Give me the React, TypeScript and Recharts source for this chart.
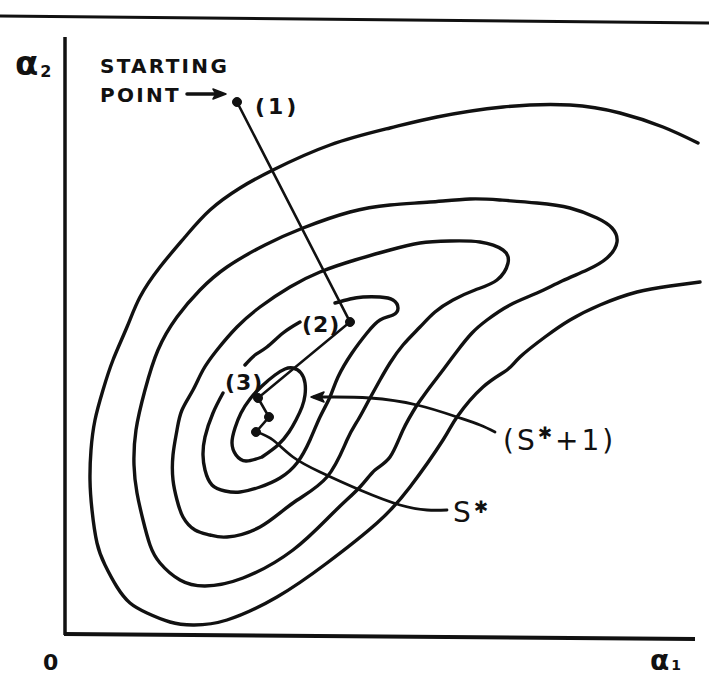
import React from 'react';
import { ComposedChart, Line, XAxis, YAxis, ReferenceLine, ReferenceDot } from 'recharts';

type Pt = [number, number];

// Objective contours in the (a1, a2) plane, origin at the axes corner.
// Outermost level is open on the right side.
const outerContour: Pt[] = [
  [633, 491], [598, 507], [555, 521], [505, 529], [438, 527], [372, 517], [325, 506],
  [265, 489], [208, 464], [175, 446], [145, 424], [120, 397], [95, 367], [75, 337],
  [62, 307], [48, 274], [38, 244], [30, 214], [26, 184], [25, 154], [27, 124], [32, 91],
  [40, 69], [52, 47], [65, 31], [82, 21], [105, 12], [128, 9], [162, 14], [212, 37],
  [262, 71], [312, 111], [345, 147], [378, 194], [392, 217], [418, 247], [442, 264],
  [455, 277], [480, 297], [505, 314], [535, 329], [572, 342], [605, 348], [635, 352],
];

const contour4: Pt[] = [
  [352, 229], [365, 247], [378, 264], [393, 284], [407, 301], [422, 314], [445, 329],
  [472, 341], [497, 353], [522, 364], [542, 376], [552, 392], [547, 406], [532, 416],
  [505, 426], [472, 431], [435, 434], [405, 435], [365, 432], [325, 429], [285, 422],
  [238, 406], [200, 389], [162, 367], [135, 344], [112, 317], [93, 284], [80, 244],
  [71, 204], [69, 169], [72, 141], [78, 114], [85, 89], [95, 71], [115, 54], [140, 48],
  [178, 56], [228, 84], [268, 121], [295, 147], [310, 164], [325, 177], [338, 204],
  [352, 229],
];

const contour3: Pt[] = [
  [305, 236], [315, 254], [325, 271], [338, 289], [355, 307], [370, 322], [388, 334],
  [410, 344], [432, 354], [443, 371], [438, 384], [415, 392], [385, 393], [355, 391],
  [325, 384], [290, 374], [255, 362], [225, 347], [195, 327], [172, 307], [152, 284],
  [138, 264], [128, 244], [117, 224], [112, 204], [108, 179], [108, 154], [112, 134],
  [118, 117], [130, 104], [145, 99], [162, 97], [195, 107], [228, 131], [262, 157],
  [282, 194], [293, 214], [305, 236],
];

// level through iterates (2) and (3); broken where its labels sit
const contour2Upper: Pt[] = [[180, 269], [190, 279], [202, 287], [218, 301], [235, 312]];
const contour2: Pt[] = [
  [270, 331], [285, 335], [298, 337], [315, 337], [328, 334], [333, 326], [328, 319],
  [315, 314], [302, 301], [287, 281], [273, 257], [265, 237], [255, 217], [245, 194],
  [232, 171], [215, 156], [195, 147], [175, 142], [160, 143], [147, 149], [140, 164],
  [138, 179], [140, 197], [148, 221], [158, 241],
];

const innerEllipse: Pt[] = [
  [197, 177], [181, 173], [171, 179], [167, 191], [170, 206], [176, 221], [185, 235],
  [197, 248], [210, 259], [220, 265], [228, 266], [236, 261], [240, 251], [240, 239],
  [237, 227], [231, 214], [224, 202], [213, 189], [197, 177],
];

// iterates: (1) start, (2), (3), S*+1, S*
const searchPath: Pt[] = [[172, 532], [285, 312], [193, 236], [204, 217], [191, 202]];

const sPlusOnePointer: Pt[] = [
  [249, 237], [265, 237], [305, 236], [352, 229], [392, 217], [415, 209], [430, 202],
];
const sStarPointer: Pt[] = [
  [192, 202], [208, 194], [228, 177], [255, 162], [295, 144], [335, 129], [362, 124], [382, 124],
];
const startArrow: Pt[] = [[122, 540], [152, 540]];

const toXY = (pts: Pt[]) => pts.map(([x, y]) => ({ x, y }));

const FONT = '"DejaVu Sans", "Liberation Sans", sans-serif';
const INK = '#111';

const label = (
  content: React.ReactNode,
  size = 20,
  weight: string | number = 'bold',
  spacing = 2,
) => (p: any) => (
  <text
    x={p.cx}
    y={p.cy}
    fontFamily={FONT}
    fontSize={size}
    fontWeight={weight}
    letterSpacing={spacing}
    fill={INK}
  >
    {content}
  </text>
);

const arrowHead = (dir: 1 | -1) => (p: any) => (
  <path
    d={`M${p.cx},${p.cy} l${-13 * dir},-5 l${3 * dir},5 l${-3 * dir},5 z`}
    fill={INK}
    stroke={INK}
    strokeWidth={1.5}
    strokeLinejoin="round"
  />
);

const curve = (pts: Pt[], key: string, width = 3.4, type: any = 'natural') => (
  <Line
    key={key}
    data={toXY(pts)}
    dataKey="y"
    type={type}
    stroke={INK}
    strokeWidth={width}
    strokeLinecap="round"
    strokeLinejoin="round"
    dot={false}
    activeDot={false}
    isAnimationActive={false}
  />
);

export default function App() {
  return (
    <div style={{ position: 'absolute', left: 0, top: 0, background: '#fff' }}>
      <ComposedChart width={709} height={677} margin={{ top: 0, right: 0, bottom: 0, left: 0 }}>
        <XAxis type="number" dataKey="x" domain={[-65, 644]} allowDataOverflow hide />
        <YAxis type="number" domain={[-43, 634]} allowDataOverflow hide />

        {/* page rule and the two axes */}
        <ReferenceLine segment={[{ x: -65, y: 618 }, { x: 644, y: 611 }]} stroke={INK} strokeWidth={3} />
        <ReferenceLine segment={[{ x: 0, y: -1 }, { x: 0, y: 597 }]} stroke={INK} strokeWidth={3.5} />
        <ReferenceLine segment={[{ x: -1, y: 0 }, { x: 630, y: -5 }]} stroke={INK} strokeWidth={4} />

        {curve(outerContour, 'c5')}
        {curve(contour4, 'c4')}
        {curve(contour3, 'c3')}
        {curve(contour2Upper, 'c2u')}
        {curve(contour2, 'c2')}
        {curve(innerEllipse, 'c1')}

        {curve(sPlusOnePointer, 'p1', 2.8)}
        {curve(sStarPointer, 'p2', 2.8)}
        {curve(startArrow, 'a1', 3.5, 'linear')}

        <Line
          data={toXY(searchPath)}
          dataKey="y"
          type="linear"
          stroke={INK}
          strokeWidth={2.6}
          dot={{ r: 4.5, fill: INK, stroke: INK, strokeWidth: 1 }}
          activeDot={false}
          isAnimationActive={false}
        />

        <ReferenceDot x={161} y={540} r={0} shape={arrowHead(1)} />
        <ReferenceDot x={246} y={237} r={0} shape={arrowHead(-1)} />

        <ReferenceDot x={-50} y={559} r={0} shape={label(<>α<tspan fontSize={16} dy={2} dx={2}>2</tspan></>, 34, 'bold', 0)} />
        <ReferenceDot x={35} y={561} r={0} shape={label('STARTING', 20, 'bold', 2.3)} />
        <ReferenceDot x={35} y={532} r={0} shape={label('POINT', 20, 'bold', 2.3)} />
        <ReferenceDot x={190} y={520} r={0} shape={label('(1)', 22, 'bold', 3)} />
        <ReferenceDot x={237} y={302} r={0} shape={label('(2)', 22, 'bold', 1)} />
        <ReferenceDot x={160} y={244} r={0} shape={label('(3)', 22, 'bold', 1)} />
        <ReferenceDot
          x={438}
          y={184}
          r={0}
          shape={label(<>(S<tspan dy={-11} fontSize={17} fontWeight="bold">✱</tspan><tspan dy={11}>+1)</tspan></>, 28, 'normal', 3)}
        />
        <ReferenceDot
          x={388}
          y={112}
          r={0}
          shape={label(<>S<tspan dy={-9} fontSize={17} fontWeight="bold">✱</tspan></>, 28, 'normal', 3)}
        />
        <ReferenceDot x={-22} y={-36} r={0} shape={label('0', 22, 'bold', 0)} />
        <ReferenceDot
          x={585}
          y={-36}
          r={0}
          shape={label(<>α<tspan fontSize={14} dx={2}>1</tspan></>, 28, 'bold', 0)}
        />
      </ComposedChart>
    </div>
  );
}
